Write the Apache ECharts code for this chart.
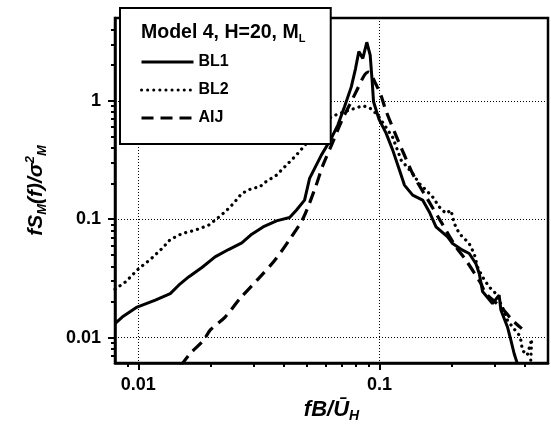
<!DOCTYPE html>
<html>
<head>
<meta charset="utf-8">
<script src="https://cdn.jsdelivr.net/npm/echarts@6/dist/echarts.min.js"></script>
<style>html,body{margin:0;padding:0;background:#fff;}#c{width:551px;height:437px;}</style>
</head>
<body>
<div id="c"></div>
<script>
// ---- data ----
const seriesNames = ['BL1', 'BL2', 'AIJ'];
const bl1 = [[0.0080,0.0131],[0.00857,0.0149],[0.00988,0.0181],[0.01176,0.0207],[0.01356,0.0235],[0.0147,0.0277],[0.01616,0.0325],[0.01835,0.0391],[0.0208,0.048],[0.02366,0.0554],[0.02686,0.063],[0.02954,0.0747],[0.0329,0.086],[0.0374,0.0968],[0.0424,0.1034],[0.0452,0.119],[0.0489,0.1448],[0.0513,0.221],[0.0574,0.3475],[0.0631,0.481],[0.0672,0.623],[0.0716,0.89],[0.0764,1.31],[0.0796,1.88],[0.0821,2.6],[0.0853,2.28],[0.0886,3.12],[0.0915,2.43],[0.0933,1.45],[0.0945,0.98],[0.0995,0.70],[0.1066,0.53],[0.1135,0.383],[0.121,0.26],[0.1269,0.194],[0.1373,0.1595],[0.151,0.145],[0.161,0.115],[0.1716,0.086],[0.1917,0.0708],[0.201,0.0622],[0.2212,0.0547],[0.2357,0.0513],[0.2512,0.042],[0.2593,0.0347],[0.2676,0.0245],[0.2943,0.0194],[0.3136,0.0228],[0.3188,0.0171],[0.3395,0.0123],[0.3507,0.0095],[0.362,0.0073],[0.3735,0.006]];
const bl2 = [[0.0080,0.0256],[0.00884,0.0295],[0.01004,0.0383],[0.0112,0.0456],[0.01253,0.0565],[0.01356,0.0673],[0.01517,0.0756],[0.0172,0.0807],[0.01955,0.0889],[0.0208,0.098],[0.0229,0.1153],[0.0248,0.1358],[0.02686,0.165],[0.02954,0.1817],[0.032,0.1875],[0.0329,0.2],[0.0374,0.2355],[0.0411,0.286],[0.0452,0.3475],[0.0505,0.45],[0.0545,0.53],[0.0631,0.732],[0.0683,0.782],[0.0751,0.834],[0.0853,0.907],[0.0909,0.873],[0.0984,0.757],[0.1135,0.49],[0.1187,0.383],[0.123,0.315],[0.1373,0.243],[0.1463,0.2],[0.156,0.176],[0.1662,0.154],[0.177,0.127],[0.1888,0.1117],[0.198,0.119],[0.2043,0.092],[0.2143,0.0757],[0.2284,0.0664],[0.2357,0.062],[0.243,0.0547],[0.248,0.0497],[0.255,0.0395],[0.2676,0.0325],[0.285,0.0268],[0.304,0.0235],[0.3236,0.0181],[0.3395,0.014],[0.356,0.0123],[0.3795,0.0105],[0.3857,0.0095],[0.3917,0.0078],[0.41,0.0071],[0.428,0.0097],[0.424,0.0064],[0.435,0.006]];
const aij = [[0.0150,0.0058],[0.0164,0.00732],[0.01865,0.0095],[0.01988,0.0116],[0.0229,0.0149],[0.02642,0.0214],[0.0315,0.0315],[0.0368,0.045],[0.0424,0.0674],[0.0482,0.1014],[0.0543,0.187],[0.0583,0.286],[0.0641,0.45],[0.0694,0.665],[0.0751,0.92],[0.080,1.19],[0.0867,1.65],[0.0901,1.75],[0.0955,1.45],[0.1016,1.1],[0.106,0.84],[0.1175,0.5],[0.1351,0.26],[0.1418,0.214],[0.16,0.142],[0.18,0.095],[0.2076,0.0583],[0.2284,0.045],[0.2634,0.0286],[0.2763,0.0235],[0.32,0.018],[0.356,0.014],[0.3895,0.0119]];
const xRange = [0.008, 0.5];
const yRange = [0.0061, 5];
const xMinorTicks = [0.009, 0.02, 0.03, 0.04, 0.05, 0.06, 0.07, 0.08, 0.09, 0.2, 0.3, 0.4];
const yMinorTicks = [0.007, 0.008, 0.009, 0.02, 0.03, 0.04, 0.05, 0.06, 0.07, 0.08, 0.09, 0.2, 0.3, 0.4, 0.5, 0.6, 0.7, 0.8, 0.9, 2, 3, 4];
const legendTitle = 'Model 4, H=20, M';
const legendTitleSub = 'L';

const FONT = 'Liberation Sans';
const lg = v => Math.log10(v);
const fmt = v => String(Number(v.toPrecision(3)));

const chart = echarts.init(document.getElementById('c'), null, {renderer: 'canvas'});
const axisName = {fontFamily: FONT, fontWeight: 'bold', fontStyle: 'italic', color: '#000'};
chart.setOption({
  animation: false,
  backgroundColor: '#fff',
  grid: {left: 115, right: 3, top: 18, bottom: 74, show: true, borderColor: '#000', borderWidth: 2.5, backgroundColor: 'transparent'},
  title: {
    text: '{a|' + legendTitle + '}{s|' + legendTitleSub + '}',
    left: 141, top: 22, padding: 0, z: 20,
    textStyle: {rich: {
      a: {fontFamily: FONT, fontWeight: 'bold', fontSize: 19.5, color: '#000', lineHeight: 22},
      s: {fontFamily: FONT, fontWeight: 'bold', fontSize: 11, color: '#000', lineHeight: 11, verticalAlign: 'bottom'}
    }}
  },
  legend: {
    data: seriesNames,
    orient: 'vertical', left: 120, top: 8,
    padding: [46, 102, 18, 20],
    itemWidth: 52, itemHeight: 14, itemGap: 12,
    itemStyle: {opacity: 0},
    lineStyle: {width: 3},
    backgroundColor: '#fff', borderColor: '#000', borderWidth: 2,
    textStyle: {fontFamily: FONT, fontWeight: 'bold', fontSize: 16, color: '#000'},
    z: 10
  },
  xAxis: [{
    type: 'log', min: xRange[0], max: xRange[1], gridIndex: 0, position: 'bottom',
    name: '{i|fB/Ū}{s|H}', nameLocation: 'middle', nameGap: 32,
    nameTextStyle: {rich: {
      i: Object.assign({fontSize: 22, lineHeight: 26}, axisName),
      s: Object.assign({fontSize: 14, lineHeight: 14, verticalAlign: 'bottom'}, axisName)
    }},
    axisLine: {show: true, onZero: false, lineStyle: {color: '#000', width: 2.5}},
    axisTick: {show: true, inside: false, length: 7, lineStyle: {color: '#000', width: 2}},
    axisLabel: {margin: 13, showMinLabel: false, showMaxLabel: false, fontFamily: FONT, fontWeight: 'bold', fontSize: 18, color: '#000', formatter: fmt},
    splitLine: {show: true, lineStyle: {color: '#000', width: 1, type: [1, 2]}}
  }, {
    type: 'value', min: lg(xRange[0]), max: lg(xRange[1]), gridIndex: 0, position: 'bottom',
    axisLine: {show: false, onZero: false}, axisLabel: {show: false}, splitLine: {show: false},
    axisTick: {show: true, inside: false, length: 4, customValues: xMinorTicks.map(lg), lineStyle: {color: '#000', width: 2}}
  }],
  yAxis: [{
    type: 'log', min: yRange[0], max: yRange[1], gridIndex: 0, position: 'left',
    name: '{i|fS}{s|M}{i|(f)/σ}{p|2}{s|M}', nameLocation: 'middle', nameGap: 66, nameRotate: 90,
    nameTextStyle: {rich: {
      i: Object.assign({fontSize: 21, lineHeight: 25}, axisName),
      s: Object.assign({fontSize: 13, lineHeight: 13, verticalAlign: 'bottom'}, axisName),
      p: Object.assign({fontSize: 13, lineHeight: 13, verticalAlign: 'top'}, axisName)
    }},
    axisLine: {show: true, onZero: false, lineStyle: {color: '#000', width: 2.5}},
    axisTick: {show: true, inside: false, length: 7, lineStyle: {color: '#000', width: 2}},
    axisLabel: {margin: 14, showMinLabel: false, showMaxLabel: false, fontFamily: FONT, fontWeight: 'bold', fontSize: 18, color: '#000', formatter: fmt},
    splitLine: {show: true, lineStyle: {color: '#000', width: 1, type: [1, 2]}}
  }, {
    type: 'value', min: lg(yRange[0]), max: lg(yRange[1]), gridIndex: 0, position: 'left',
    axisLine: {show: false, onZero: false}, axisLabel: {show: false}, splitLine: {show: false},
    axisTick: {show: true, inside: false, length: 4, customValues: yMinorTicks.map(lg), lineStyle: {color: '#000', width: 2}}
  }],
  series: [
    {name: seriesNames[0], type: 'line', data: bl1, xAxisIndex: 0, yAxisIndex: 0, symbol: 'none', color: '#000',
     lineStyle: {color: '#000', width: 3, type: 'solid'}},
    {name: seriesNames[1], type: 'line', data: bl2, xAxisIndex: 0, yAxisIndex: 0, symbol: 'none', color: '#000',
     lineStyle: {color: '#000', width: 3.2, type: [0.1, 6], cap: 'round'}},
    {name: seriesNames[2], type: 'line', data: aij, xAxisIndex: 0, yAxisIndex: 0, symbol: 'none', color: '#000', smooth: 0.3,
     lineStyle: {color: '#000', width: 3.2, type: [12, 7]}}
  ]
});
</script>
</body>
</html>
